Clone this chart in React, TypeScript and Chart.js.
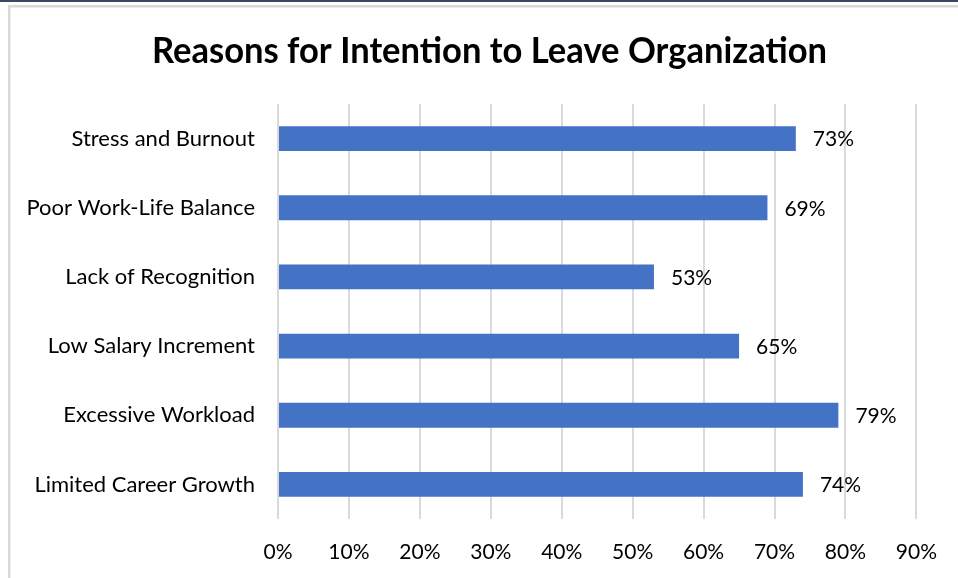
import React, { useEffect, useRef } from "react";
import { Chart, registerables } from "chart.js";

Chart.register(...registerables);

const TITLE = "Reasons for Intention to Leave Organization";
const categories = [
  "Stress and Burnout",
  "Poor Work-Life Balance",
  "Lack of Recognition",
  "Low Salary Increment",
  "Excessive Workload",
  "Limited Career Growth",
];
const values = [73, 69, 53, 65, 79, 74];
const xTickMax = 90;
const xTickStep = 10;

const FONT = "Lato";

const framePlugin = {
  id: "frame",
  beforeDraw(chart: any) {
    const { ctx, width, height } = chart;
    ctx.save();
    ctx.fillStyle = "#ffffff";
    ctx.fillRect(0, 0, width, height);
    ctx.fillStyle = "#3b4863";
    ctx.fillRect(0, 0, width, 2);
    ctx.strokeStyle = "#d9d9d9";
    ctx.lineWidth = 2.5;
    ctx.strokeRect(9.25, 6.25, width + 50, height + 50);
    ctx.restore();
  },
  afterDraw(chart: any) {
    const { ctx } = chart;
    ctx.save();
    ctx.fillStyle = "#000000";
    ctx.font = `bold 36px ${FONT}`;
    ctx.textAlign = "center";
    ctx.textBaseline = "alphabetic";
    ctx.translate(489.5, 63);
    ctx.scale(0.96, 1);
    ctx.fillText(TITLE, 0, 0);
    ctx.restore();
  },
};

const labelPlugin = {
  id: "barLabels",
  afterDatasetsDraw(chart: any) {
    const { ctx } = chart;
    const meta = chart.getDatasetMeta(0);
    ctx.save();
    ctx.fillStyle = "#000000";
    ctx.font = `21px ${FONT}`;
    ctx.textAlign = "left";
    ctx.textBaseline = "middle";
    meta.data.forEach((bar: any, i: number) => {
      ctx.fillText(values[i] + "%", bar.x + 17, bar.y + 1);
    });
    ctx.restore();
  },
};

export default function App() {
  const ref = useRef<HTMLCanvasElement>(null);
  useEffect(() => {
    document.body.style.margin = "0";
    const chart = new Chart(ref.current!, {
      type: "bar",
      data: {
        labels: categories,
        datasets: [
          {
            data: values,
            backgroundColor: "#4472C4",
            borderWidth: 0,
            categoryPercentage: 1,
            barPercentage: 0.36,
          },
        ],
      },
      options: {
        indexAxis: "y",
        responsive: false,
        animation: false,
        layout: { padding: { top: 104, right: 40, left: 0, bottom: 0 } },
        plugins: {
          legend: { display: false },
          tooltip: { enabled: false },
          title: { display: false },
        },
        scales: {
          y: {
            afterFit: (s: any) => {
              s.width = 278;
            },
            grid: { display: false, drawTicks: false },
            border: { display: false },
            ticks: {
              padding: 23,
              color: "#000000",
              font: { family: FONT, size: 22 },
            },
          },
          x: {
            min: 0,
            max: xTickMax,
            afterFit: (s: any) => {
              s.height = 59;
            },
            grid: { color: "#dadada", lineWidth: 2, drawTicks: false },
            border: { display: false },
            ticks: {
              stepSize: xTickStep,
              padding: 21,
              color: "#000000",
              font: { family: FONT, size: 21 },
              callback: (v: any) => v + "%",
            },
          },
        },
      },
      plugins: [framePlugin, labelPlugin],
    });
    return () => chart.destroy();
  }, []);
  return (
    <div style={{ position: "fixed", left: 0, top: 0, width: 958, height: 578 }}>
      <canvas ref={ref} width={958} height={578} />
    </div>
  );
}
